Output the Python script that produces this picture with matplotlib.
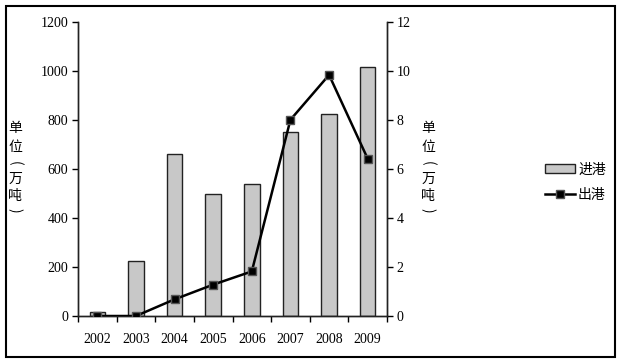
import matplotlib
matplotlib.use('Agg')
import matplotlib.pyplot as plt
from matplotlib.patches import Rectangle
import numpy as np

years = ['2002', '2003', '2004', '2005', '2006', '2007', '2008', '2009']
inbound = [15, 224, 660, 498, 539, 751, 824, 1015]    # 进港
outbound = [0.0, 0.0, 0.68, 1.28, 1.82, 8.01, 9.84, 6.42]  # 出港
unit_chars = ['单', '位', '(', '万', '吨', ')']

num_font = ['Liberation Serif', 'Noto Sans CJK SC']
cjk_font = ['Noto Sans CJK SC', 'DejaVu Sans']
plt.rcParams['font.family'] = num_font

W, H = 621, 364
fig = plt.figure(figsize=(6.21, 3.64), dpi=100)
ax = fig.add_axes([78 / W, 1 - 316 / H, 309 / W, 294 / H])
x = np.arange(len(years))
bars = ax.bar(x, inbound, width=0.4, color='#c8c8c8', edgecolor='#222222',
              linewidth=1.0, label='进港', zorder=2)
ax.set_ylim(0, 1200)
ax.set_yticks(np.arange(0, 1201, 200))
ax.set_xlim(-0.5, len(years) - 0.5)
ax.set_xticks(x)
ax.set_xticklabels(years)
ax.set_xticks(np.arange(-0.5, len(years)), minor=True)
ax.tick_params(axis='x', which='major', length=0, pad=12, labelsize=10)
ax.tick_params(axis='x', which='minor', length=4, direction='out', width=1)
ax.tick_params(axis='y', length=4, width=1, pad=3, labelsize=10)
ax.spines['top'].set_visible(False)

ax2 = ax.twinx()
ln, = ax2.plot(x, outbound, color='black', linewidth=1.8, marker='s',
               markersize=6, markerfacecolor='black', markeredgecolor='#555555',
               label='出港', zorder=3)
ax2.set_ylim(0, 12)
ax2.set_yticks(np.arange(0, 13, 2))
ax2.tick_params(axis='y', length=4, width=1, pad=3, labelsize=10)
ax2.spines['top'].set_visible(False)
for a in (ax, ax2):
    for s in a.spines.values():
        s.set_linewidth(1.0)
        s.set_color('#222222')

# vertical unit labels, one character at a time (brackets turned sideways)
ys = [128, 147, 163, 179, 196, 210]
for xc in (15, 428):
    for ch, yc in zip(unit_chars, ys):
        rot = -90 if ch in '()' else 0
        fig.text(xc / W, 1 - yc / H, ch, family=cjk_font, fontsize=10,
                 ha='center', va='center', rotation=rot)

leg = fig.legend(handles=[bars, ln], labels=['进港', '出港'], loc='center left',
                 bbox_to_anchor=(0.857, 0.5), frameon=False,
                 prop={'family': cjk_font, 'size': 10}, handlelength=2.2,
                 handletextpad=0.2, labelspacing=0.8)

fig.patches.append(Rectangle((0.01, 0.018), 0.98, 0.965, transform=fig.transFigure,
                             fill=False, edgecolor='black', linewidth=1.5))

fig.savefig('out.png', dpi=100)
